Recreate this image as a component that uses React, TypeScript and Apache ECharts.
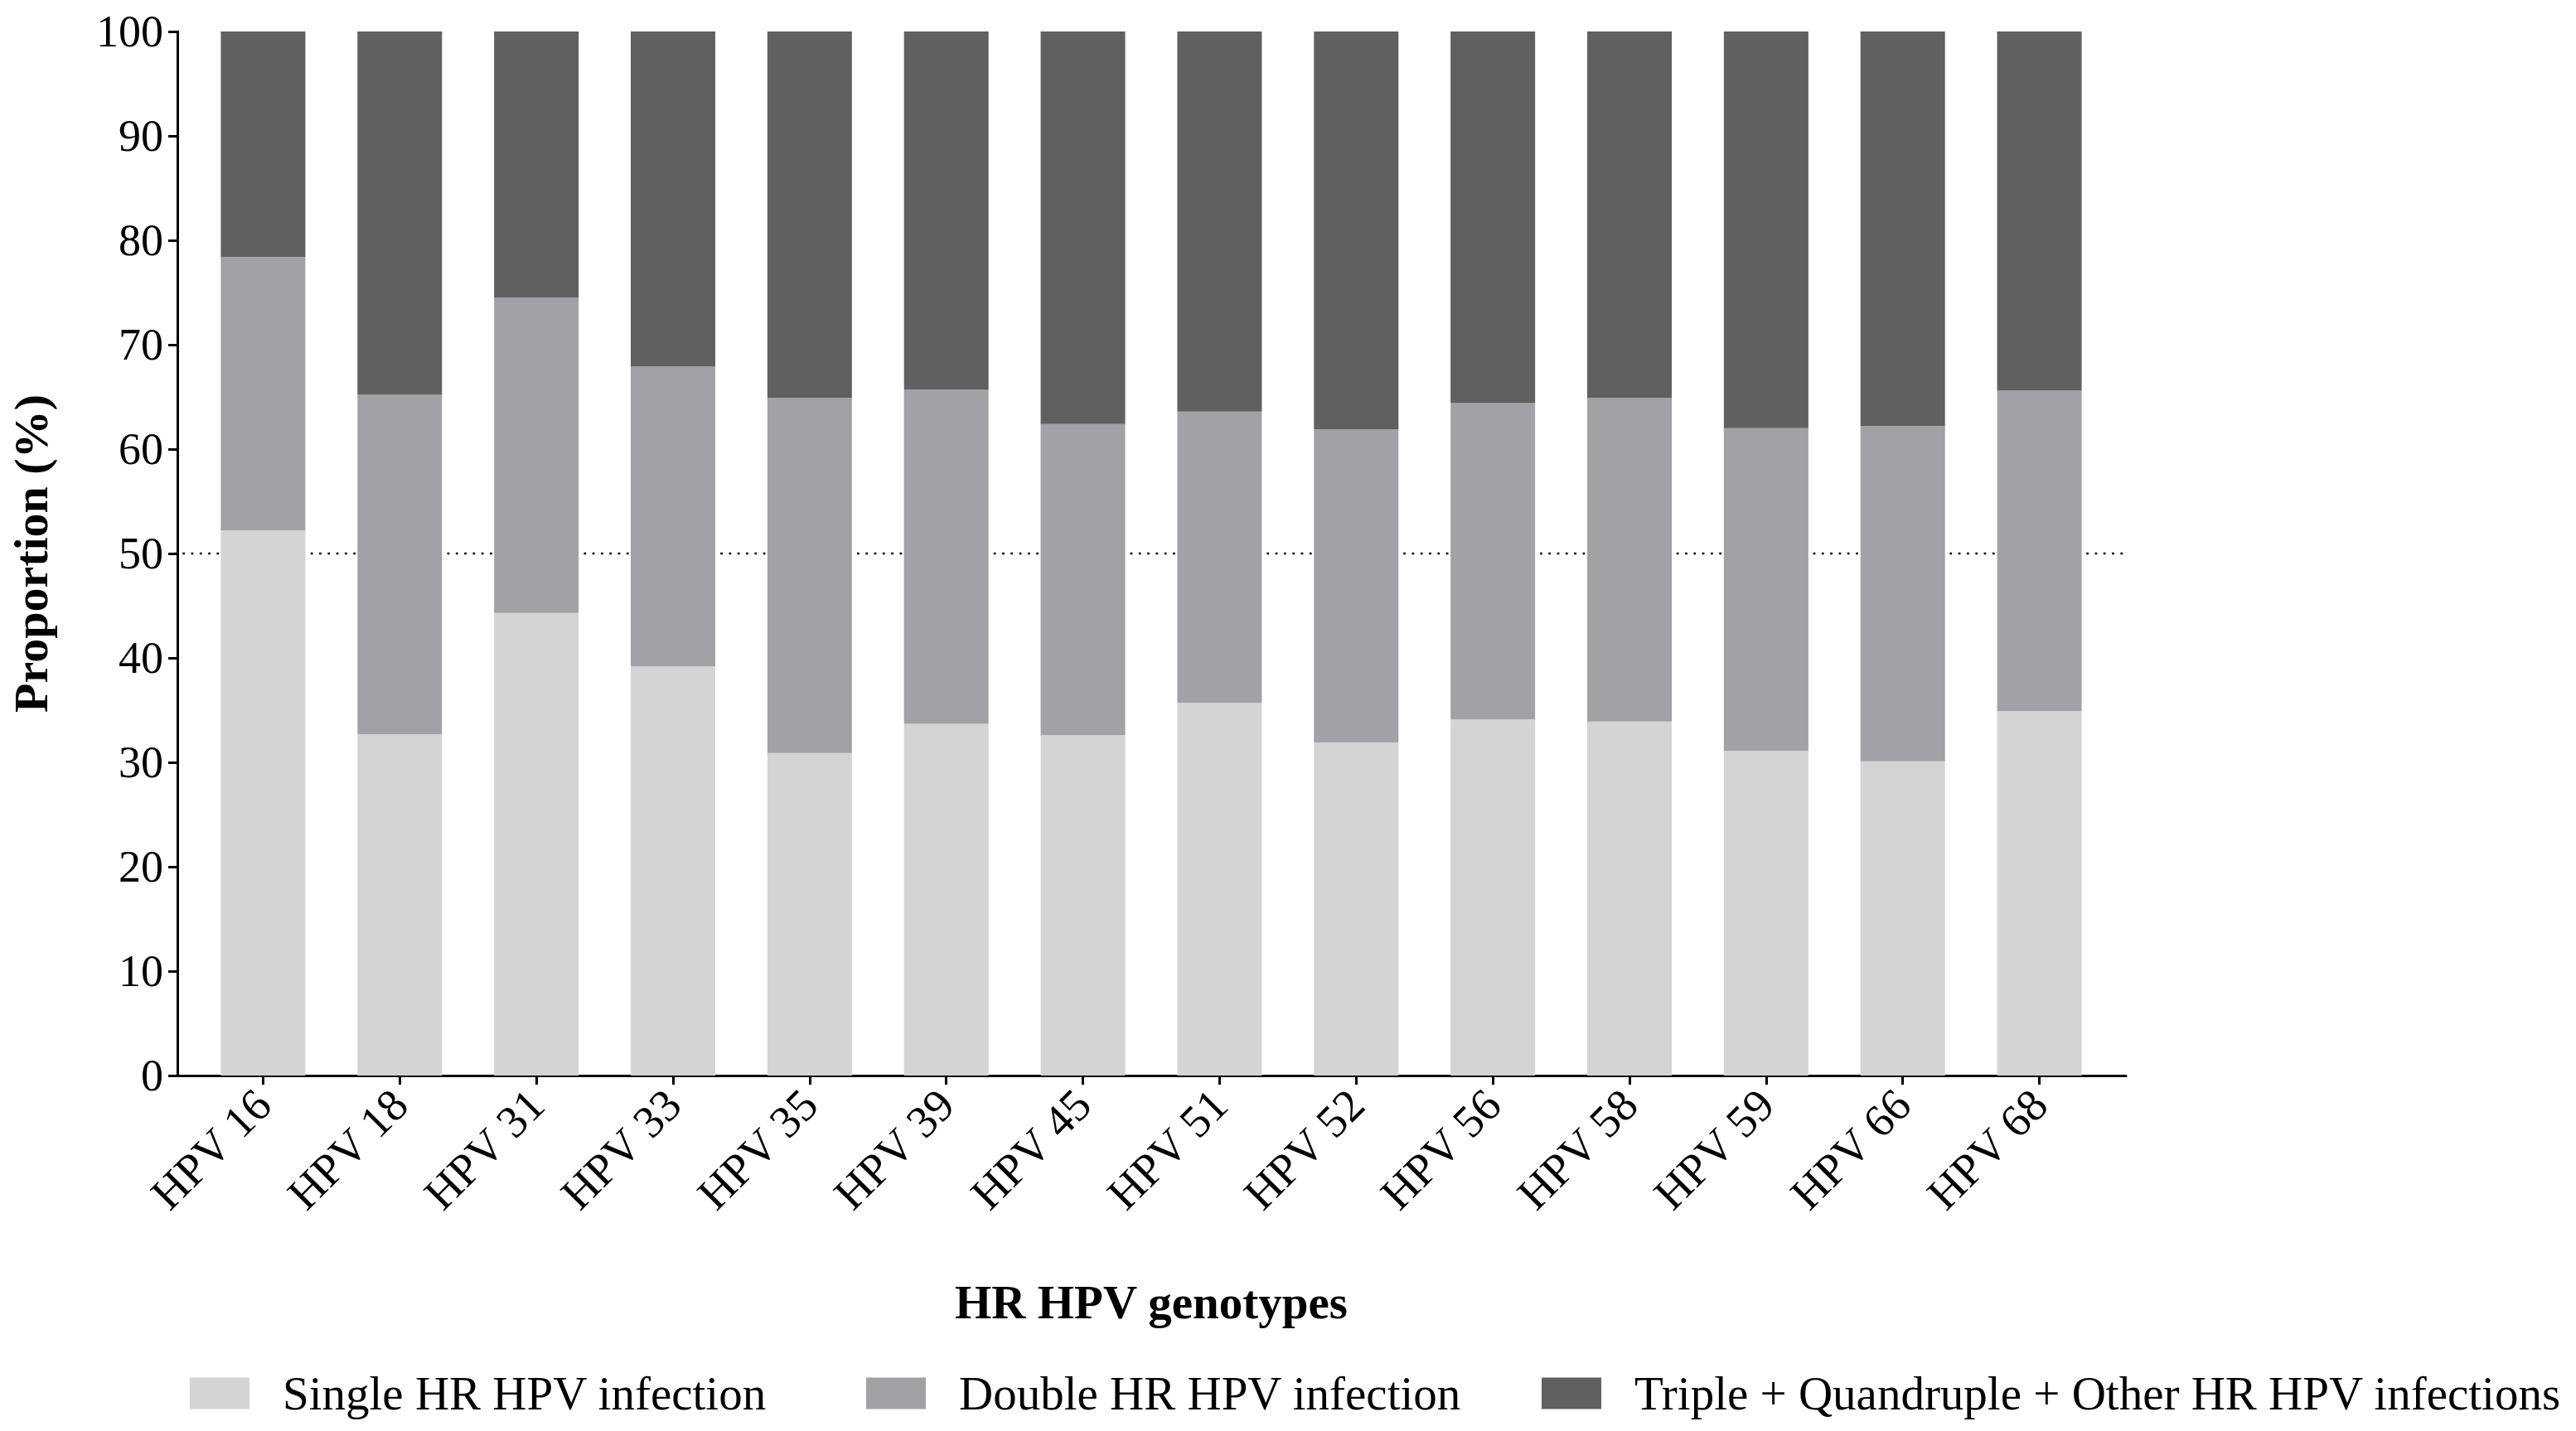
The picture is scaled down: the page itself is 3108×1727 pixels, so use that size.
import React, { useEffect, useRef } from "react";
import * as echarts from "echarts";

const categories = [
  "HPV 16", "HPV 18", "HPV 31", "HPV 33", "HPV 35", "HPV 39", "HPV 45",
  "HPV 51", "HPV 52", "HPV 56", "HPV 58", "HPV 59", "HPV 66", "HPV 68",
];
const singleInfection = [52.2, 32.7, 44.3, 39.2, 30.9, 33.7, 32.6, 35.7, 31.9, 34.1, 33.9, 31.1, 30.1, 34.9];
const doubleInfection = [26.2, 32.5, 30.2, 28.7, 34.0, 32.0, 29.8, 27.9, 30.0, 30.3, 31.0, 30.9, 32.1, 30.7];
const tripleInfection = [21.6, 34.8, 25.5, 32.1, 35.1, 34.3, 37.6, 36.4, 38.1, 35.6, 35.1, 38.0, 37.8, 34.4];
const yTicks = [0, 10, 20, 30, 40, 50, 60, 70, 80, 90, 100];
const seriesNames = [
  "Single HR HPV infection",
  "Double HR HPV infection",
  "Triple + Quandruple + Other HR HPV infections",
];
const referenceLine = 50;

const FONT = '"Liberation Serif", "Times New Roman", serif';

export default function App() {
  const ref = useRef<HTMLDivElement>(null);
  useEffect(() => {
    if (!ref.current) return;
    const chart = echarts.init(ref.current, undefined, { renderer: "svg" });
    const colors = ["#d4d4d4", "#a2a1a6", "#606060"];
    const dataSets = [singleInfection, doubleInfection, tripleInfection];
    const legendLefts = [224, 1040, 1855];
    chart.setOption({
      animation: false,
      backgroundColor: "#ffffff",
      textStyle: { fontFamily: FONT, color: "#000" },
      grid: [
        { left: 231, right: 565, top: 38, bottom: 429, containLabel: false },
        { left: 210, right: 543, top: 38, bottom: 429, containLabel: false },
      ],
      legend: seriesNames.map((n, i) => ({
        left: legendLefts[i],
        top: 1648,
        icon: "rect",
        itemWidth: 72,
        itemHeight: 38,
        data: [n],
        textStyle: {
          fontFamily: FONT,
          fontSize: 57,
          color: "#000",
          padding: [0, 0, 0, 35],
        },
      })),
      xAxis: [
        {
          type: "category",
          gridIndex: 0,
          data: categories,
          name: "HR HPV genotypes",
          nameLocation: "middle",
          nameGap: 245,
          nameTextStyle: { fontFamily: FONT, fontSize: 57, fontWeight: "bold", color: "#000" },
          axisLine: { show: false },
          axisTick: { show: true, alignWithLabel: true, length: 11, lineStyle: { color: "#000", width: 3 } },
          axisLabel: {
            rotate: 45,
            margin: 26,
            fontFamily: FONT,
            fontSize: 55,
            color: "#000",
          },
        },
        {
          type: "value",
          gridIndex: 1,
          min: 0,
          max: 1,
          axisLine: { show: true, onZero: false, lineStyle: { color: "#000", width: 3 } },
          axisTick: { show: false },
          axisLabel: { show: false },
          splitLine: { show: false },
        },
      ],
      yAxis: [
        {
          type: "value",
          gridIndex: 0,
          min: 0,
          max: 100,
          interval: 10,
          offset: 21,
          name: "Proportion (%)",
          nameLocation: "middle",
          nameGap: 148,
          nameTextStyle: { fontFamily: FONT, fontSize: 58, fontWeight: "bold", color: "#000" },
          axisLine: { show: true, lineStyle: { color: "#000", width: 3 } },
          axisTick: { show: true, length: 11, lineStyle: { color: "#000", width: 3 } },
          axisLabel: {
            margin: 17,
            fontFamily: FONT,
            fontSize: 54,
            color: "#000",
            formatter: (v: number) => (yTicks.includes(v) ? String(v) : ""),
          },
          splitLine: { show: false },
        },
        {
          type: "value",
          gridIndex: 1,
          min: 0,
          max: 100,
          show: false,
        },
      ],
      series: [
        {
          name: "ref50",
          type: "line",
          xAxisIndex: 1,
          yAxisIndex: 1,
          z: 1,
          silent: true,
          symbol: "none",
          data: [
            [0, referenceLine],
            [1, referenceLine],
          ],
          lineStyle: { color: "#000", type: [2.7, 7.6], width: 2.7 },
        },
        ...dataSets.map((d, i) => ({
          name: seriesNames[i],
          type: "bar",
          stack: "total",
          xAxisIndex: 0,
          yAxisIndex: 0,
          data: d,
          barWidth: 102,
          z: 3,
          itemStyle: { color: colors[i] },
        })),
      ],
    });
    return () => chart.dispose();
  }, []);
  return (
    <div
      ref={ref}
      style={{ position: "absolute", left: 0, top: 0, width: 3108, height: 1727 }}
    />
  );
}
